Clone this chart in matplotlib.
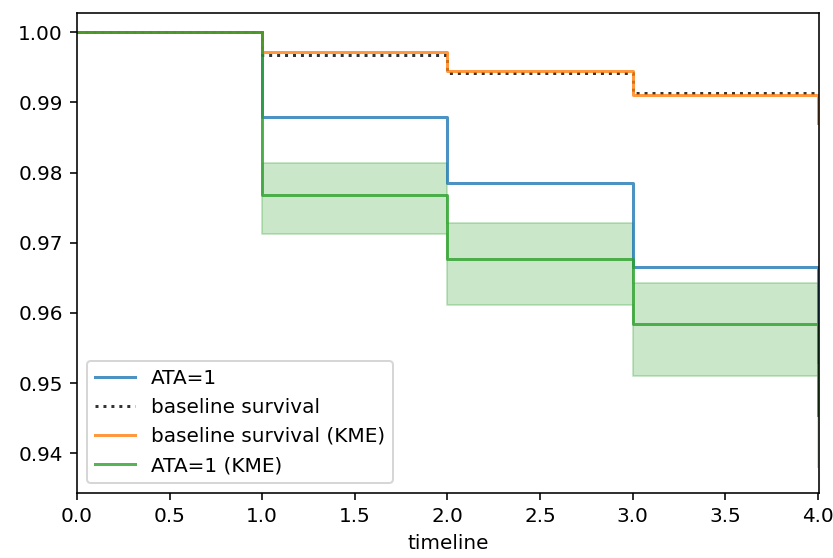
import numpy as np
import matplotlib
matplotlib.use("Agg")
import matplotlib.pyplot as plt

# survival estimates at each event time
timeline = [0.0, 1.0, 2.0, 3.0, 4.0]
ata_pred = [1.0, 0.98798, 0.97849, 0.96661, 0.9530]
baseline = [1.0, 0.99679, 0.99413, 0.99138, 0.99138]
baseline_kme = [1.0, 0.99722, 0.99446, 0.99104, 0.98704]
ata_kme = [1.0, 0.97682, 0.96766, 0.95845, 0.94548]
ata_kme_lower = [1.0, 0.97122, 0.96115, 0.95104, 0.9380]
ata_kme_upper = [1.0, 0.98134, 0.97279, 0.96433, 0.9520]

fig = plt.figure(figsize=(833 / 144, 558 / 144), dpi=144)
ax = fig.add_axes([77 / 833, 1 - 493 / 558, 742 / 833, 480 / 558])

ax.plot(timeline, ata_pred, drawstyle="steps-post", color="tab:blue", alpha=0.8, label="ATA=1")
ax.plot(timeline, baseline, drawstyle="steps-post", color="k", ls=":", alpha=0.8,
        label="baseline survival")
ax.plot(timeline, baseline_kme, drawstyle="steps-post", color="tab:orange", alpha=0.8,
        label="baseline survival (KME)")
ax.plot(timeline, ata_kme, drawstyle="steps-post", color="tab:green", alpha=0.8,
        label="ATA=1 (KME)")
ax.fill_between(timeline, ata_kme_lower, ata_kme_upper, step="post",
                color="tab:green", alpha=0.25, linewidth=1.0)

ax.set_xlim(0, 4.006)
ax.set_xticks(np.arange(0, 4.01, 0.5))
ax.set_ylim(0.93434, 1.00273)
ax.set_xlabel("timeline")
ax.legend(loc="lower left")

fig.savefig("out.png", dpi=144)
